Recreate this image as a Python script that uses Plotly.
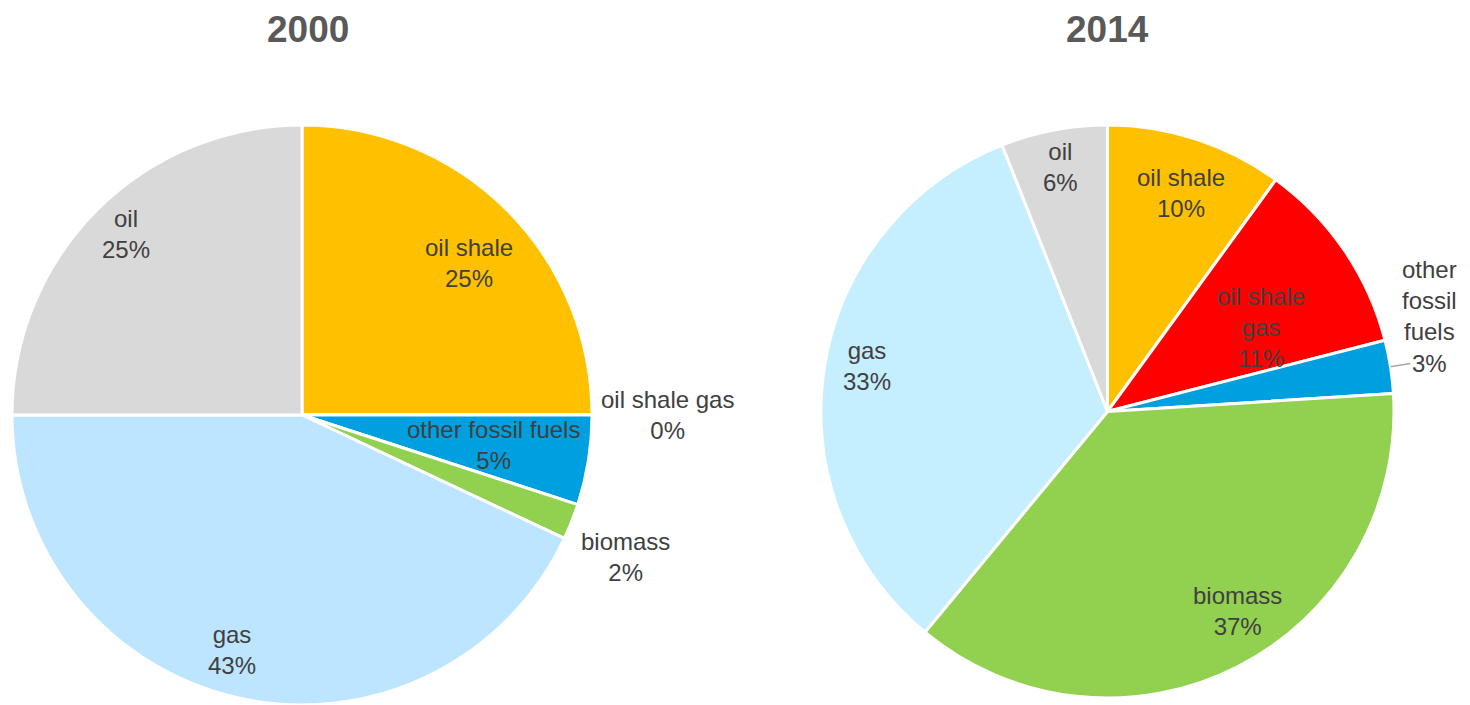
import math
import plotly.graph_objects as go

# The page body adds an 8px margin, so the figure is sized to fill the window
OFF = 8
W, H = 1470 - OFF, 705 - OFF

categories = ["oil shale", "oil shale gas", "other fossil fuels", "biomass", "gas", "oil"]
label_text_2000 = ["oil shale", "oil shale gas", "other fossil fuels", "biomass", "gas", "oil"]
label_text_2014 = ["oil shale", "oil shale<br>gas", "other<br>fossil<br>fuels", "biomass", "gas", "oil"]
values_2000 = [25, 0, 5, 2, 43, 25]
values_2014 = [10, 11, 3, 37, 33, 6]

colors_2000 = ["#FFC000", "#FF0000", "#009FDF", "#92D050", "#BDE5FF", "#D9D9D9"]
colors_2014 = ["#FFC000", "#FF0000", "#009FDF", "#92D050", "#C5EEFF", "#D9D9D9"]

# label placement styles (radius factor, angle offset in degrees)
k_2000 = [0.78, 1.26, 0.67, 1.22, 0.845, 0.87]
off_2000 = [2.7, 0, 0, 2.1, 4.0, 0.8]
k_2014 = [0.805, 0.61, 1.17, 0.83, 0.855, 0.87]
off_2014 = [0.7, 5.6, -7.4, -6.0, 1.8, 0]


def domain_for(cx_page, cy_page, r, half_w):
    cx = cx_page - OFF
    cy = cy_page - OFF
    y0 = max(0.0, 1 - (cy + r) / H)
    y1 = 1 - (cy - r) / H
    x0 = max(0.0, (cx - half_w) / W)
    x1 = min(1.0, (cx + half_w) / W)
    return dict(x=[x0, x1], y=[y0, y1])


dom_2000 = dict(x=[0.0, 2 * (302 - OFF) / W], y=[0.0, 1 - (125 - OFF) / H])
dom_2014 = domain_for(1107.5, 411.5, 286.5, 305)

LABEL_FONT = dict(family="Liberation Sans, Arial, sans-serif", size=24, color="#404040")

fig = go.Figure()
annotations = []
shapes = []


def geom(dom):
    wpx = (dom["x"][1] - dom["x"][0]) * W
    hpx = (dom["y"][1] - dom["y"][0]) * H
    r = min(wpx, hpx) / 2
    cx = (dom["x"][0] + dom["x"][1]) / 2
    cy = (dom["y"][0] + dom["y"][1]) / 2
    return cx, cy, r


def pt(cx, cy, r, ang, k):
    return cx + k * r * math.sin(ang) / W, cy + k * r * math.cos(ang) / H


def add_pie(values, colors, dom, texts, ks, offs, leader=None):
    fig.add_trace(go.Pie(
        labels=categories, values=values, sort=False, direction="clockwise",
        rotation=0, domain=dom, textinfo="none", hoverinfo="label+percent",
        marker=dict(colors=colors, line=dict(color="white", width=3)),
        showlegend=False,
    ))
    cx, cy, r = geom(dom)
    total = sum(values)
    cum = 0
    for i, v in enumerate(values):
        mid = 2 * math.pi * (cum + v / 2) / total
        ang = mid + math.radians(offs[i])
        x, y = pt(cx, cy, r, ang, ks[i])
        pct = round(100 * v / total)
        annotations.append(dict(
            x=x, y=y, xref="paper", yref="paper", showarrow=False,
            text=f"{texts[i]}<br>{pct}%", font=LABEL_FONT,
            xanchor="center", yanchor="middle", align="center",
        ))
        if leader is not None and i == leader:
            x0, y0 = pt(cx, cy, r, mid, 1.0)
            x1, y1 = pt(cx, cy, r, mid, 1.07)
            shapes.append(dict(type="line", xref="paper", yref="paper",
                               x0=x0, y0=y0, x1=x1, y1=y1,
                               line=dict(color="#A6A6A6", width=1.5)))
        cum += v


add_pie(values_2000, colors_2000, dom_2000, label_text_2000, k_2000, off_2000)
add_pie(values_2014, colors_2014, dom_2014, label_text_2014, k_2014, off_2014, leader=2)

TITLE_FONT = dict(family="Liberation Sans, Arial, sans-serif", size=37, color="#595959")
for txt, xpage in [("<b>2000</b>", 308), ("<b>2014</b>", 1107)]:
    annotations.append(dict(x=(xpage - OFF) / W, y=1,
                            xref="paper", yref="paper", borderpad=0,
                            text=txt, showarrow=False, font=TITLE_FONT,
                            xanchor="center", yanchor="top"))

fig.update_layout(
    width=W, height=H, margin=dict(l=0, r=0, t=0, b=0),
    paper_bgcolor="white", plot_bgcolor="white",
    annotations=annotations, shapes=shapes,
)

fig.write_html("out.html")
